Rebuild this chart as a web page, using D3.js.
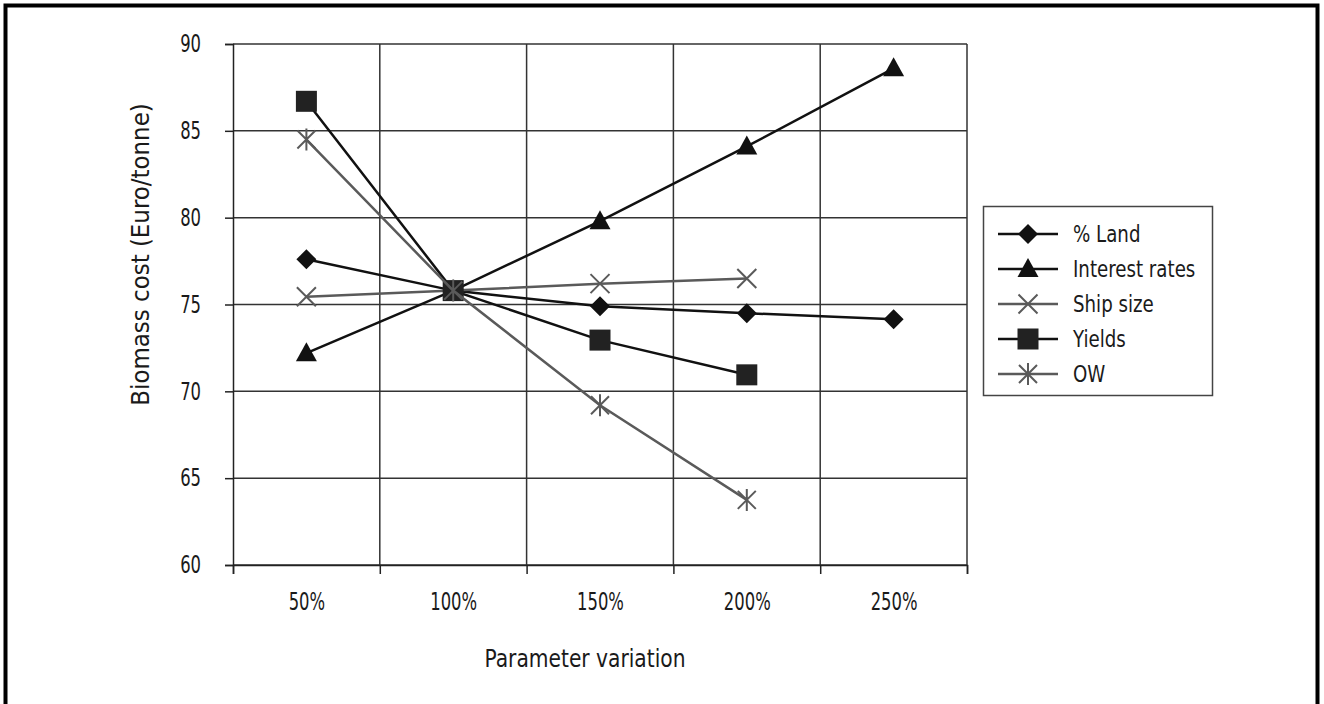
<!DOCTYPE html>
<html>
<head>
<meta charset="utf-8">
<script src="https://cdn.jsdelivr.net/npm/d3@7"></script>
<style>
  html, body { margin: 0; padding: 0; background: #fff; }
  svg { display: block; }
  text { font-family: 'Liberation Sans Narrow', 'DejaVu Sans Condensed', 'Arial Narrow', sans-serif; fill: #1a1a1a; }
</style>
</head>
<body>
<svg id="chart" width="1324" height="704"></svg>
<script>
const categories = ["50%", "100%", "150%", "200%", "250%"];
const seriesNames = ["% Land", "Interest rates", "Ship size", "Yields", "OW"];
const landValues = [77.6, 75.8, 74.9, 74.5, 74.15];
const interestValues = [72.2, 75.8, 79.8, 84.1, 88.6];
const shipValues = [75.45, 75.8, 76.2, 76.5];
const yieldsValues = [86.7, 75.8, 72.95, 70.95];
const owValues = [84.5, 75.8, 69.2, 63.75];
const yTicks = [60, 65, 70, 75, 80, 85, 90];
const xTitle = "Parameter variation";
const yTitle = "Biomass cost (Euro/tonne)";

const seriesValues = [landValues, interestValues, shipValues, yieldsValues, owValues];
const seriesStyle = [
  { color: "#111", marker: "diamond" },
  { color: "#111", marker: "triangle" },
  { color: "#5a5a5a", marker: "x" },
  { color: "#111", marker: "square" },
  { color: "#5a5a5a", marker: "asterisk" }
];

const svg = d3.select("#chart");
const W = 1324, H = 704;

// outer frame
svg.append("path")
  .attr("d", `M5.5,${H + 5} V5.5 H1317.5 V${H + 5}`)
  .attr("fill", "none").attr("stroke", "#000").attr("stroke-width", 4);

const pL = 233, pR = 967, pT = 44, pB = 565;
const x = d3.scalePoint().domain(categories).range([pL, pR]).padding(0.5);
const xEdge = d3.scaleLinear().domain([0, categories.length]).range([pL, pR]);
const y = d3.scaleLinear().domain([60, 90]).range([pB, pT]);

// condense text horizontally (keeps its x anchor)
function condense(sel, k) {
  sel.each(function () {
    const t = d3.select(this);
    const xv = +(t.attr("x") || 0);
    t.attr("x", xv / k).attr("transform", `scale(${k},1)`);
  });
}

const g = svg.append("g");

// horizontal gridlines
g.append("g").selectAll("line").data(yTicks).join("line")
  .attr("x1", pL).attr("x2", pR)
  .attr("y1", d => y(d)).attr("y2", d => y(d))
  .attr("stroke", "#333").attr("stroke-width", 1.5);
// vertical gridlines
g.append("g").selectAll("line").data(d3.range(1, categories.length + 1)).join("line")
  .attr("x1", d => xEdge(d)).attr("x2", d => xEdge(d))
  .attr("y1", pT).attr("y2", pB)
  .attr("stroke", "#333").attr("stroke-width", 1.5);

// y axis
const yAxis = g.append("g").attr("transform", `translate(${pL},0)`)
  .call(d3.axisLeft(y).tickValues(yTicks).tickSize(8).tickPadding(24));
yAxis.select(".domain").attr("stroke", "#222").attr("stroke-width", 1.5);
yAxis.selectAll(".tick line").attr("stroke", "#222").attr("stroke-width", 1.5);
yAxis.selectAll("text").style("font-size", "24px").attr("fill", "#1a1a1a").call(condense, 0.76);

// x axis edge ticks
const xAxisEdge = g.append("g").attr("transform", `translate(0,${pB})`)
  .call(d3.axisBottom(xEdge).ticks(categories.length).tickSize(9).tickFormat(""));
xAxisEdge.select(".domain").attr("stroke", "#222").attr("stroke-width", 1.5);
xAxisEdge.selectAll(".tick line").attr("stroke", "#222").attr("stroke-width", 1.5);
// x labels
const xAxisLab = g.append("g").attr("transform", `translate(0,${pB})`)
  .call(d3.axisBottom(x).tickSize(0).tickPadding(28));
xAxisLab.select(".domain").remove();
xAxisLab.selectAll("text").style("font-size", "24px").attr("fill", "#1a1a1a").call(condense, 0.76);

// axis titles
svg.append("g").attr("transform", `translate(${(pL + pR) / 2 - 15},667)`)
  .append("text").attr("text-anchor", "middle").style("font-size", "25px")
  .attr("transform", "scale(0.9,1)").text(xTitle);
svg.append("g").attr("transform", `translate(149,${(pT + pB) / 2 - 50}) rotate(-90)`)
  .append("text").attr("text-anchor", "middle").style("font-size", "25px")
  .attr("transform", "scale(1.02,1)").text(yTitle);

function drawMarker(sel, type, color) {
  if (type === "diamond") {
    sel.append("path").attr("d", "M0,-10 L10,0 L0,10 L-10,0 Z").attr("fill", color);
  } else if (type === "triangle") {
    sel.append("path").attr("d", "M0,-11 L10.5,8 L-10.5,8 Z").attr("fill", color);
  } else if (type === "square") {
    sel.append("rect").attr("x", -10.5).attr("y", -10.5).attr("width", 21).attr("height", 21).attr("fill", "#222");
  } else if (type === "x") {
    sel.append("path").attr("d", "M-9.5,-9.5 L9.5,9.5 M-9.5,9.5 L9.5,-9.5").attr("stroke", color).attr("stroke-width", 2).attr("fill", "none");
  } else if (type === "asterisk") {
    sel.append("path").attr("d", "M-9,-9 L9,9 M-9,9 L9,-9 M0,-11 L0,11").attr("stroke", color).attr("stroke-width", 2).attr("fill", "none");
  }
}

const line = d3.line().x((d, i) => x(categories[i])).y(d => y(d));

seriesValues.forEach((vals, si) => {
  const st = seriesStyle[si];
  const sg = g.append("g");
  sg.append("path").datum(vals).attr("d", line)
    .attr("fill", "none").attr("stroke", st.color).attr("stroke-width", 2.5);
  vals.forEach((v, i) => {
    const m = sg.append("g").attr("transform", `translate(${x(categories[i])},${y(v)})`);
    drawMarker(m, st.marker, st.color);
  });
});

// legend
const lg = svg.append("g").attr("transform", "translate(983,206)");
lg.append("rect").attr("x", 0.5).attr("y", 0.5).attr("width", 229).attr("height", 189)
  .attr("fill", "#fff").attr("stroke", "#444").attr("stroke-width", 1.5);
seriesNames.forEach((name, i) => {
  const st = seriesStyle[i];
  const yy = 28 + i * 35;
  const item = lg.append("g").attr("transform", `translate(0,${yy})`);
  item.append("line").attr("x1", 15).attr("x2", 75).attr("y1", 0).attr("y2", 0)
    .attr("stroke", st.color).attr("stroke-width", 2.5);
  const m = item.append("g").attr("transform", "translate(45,0)");
  drawMarker(m, st.marker, st.color);
  item.append("text").attr("x", 90).attr("y", 0).attr("dy", "0.35em")
    .style("font-size", "23px").text(name).call(condense, 0.88);
});
</script>
</body>
</html>
